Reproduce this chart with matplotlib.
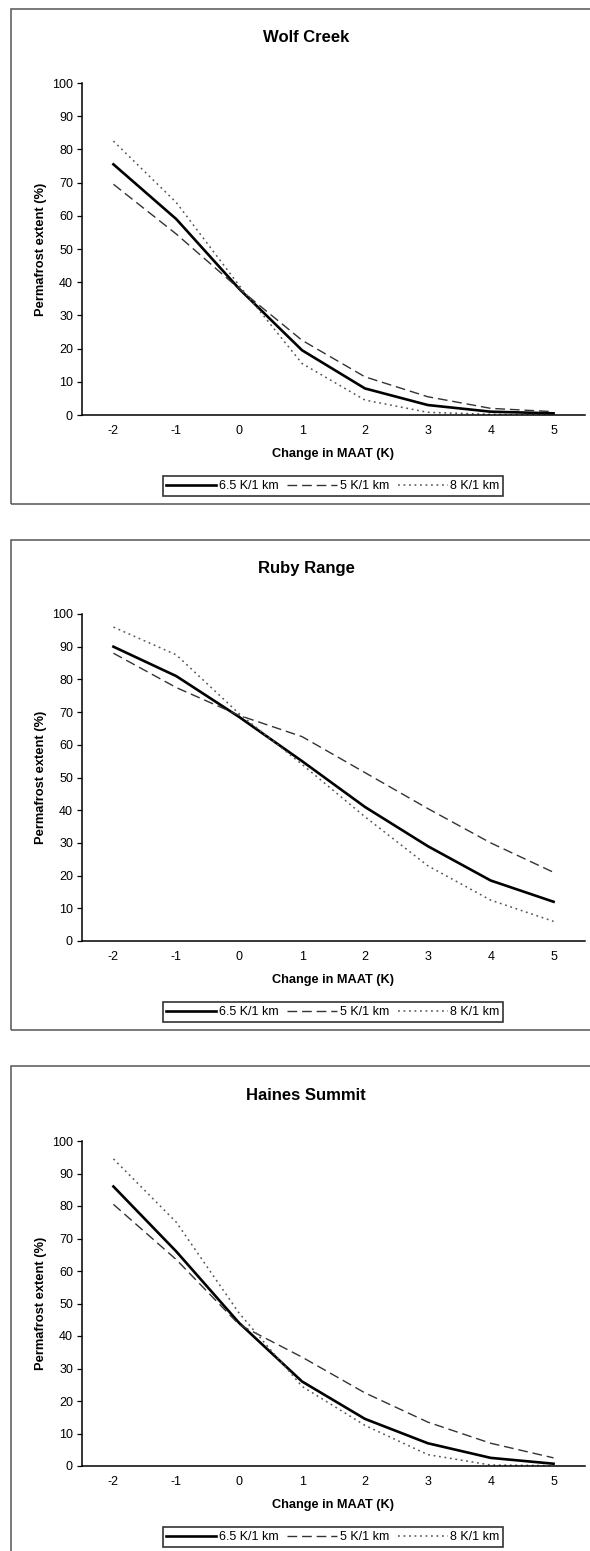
import matplotlib
matplotlib.use("Agg")
import matplotlib.pyplot as plt
from matplotlib.patches import Rectangle

plt.rcParams['font.family'] = ['Liberation Sans', 'DejaVu Sans']

maat_change = [-2, -1, 0, 1, 2, 3, 4, 5]
series_labels = ["6.5 K/1 km", "5 K/1 km", "8 K/1 km"]

# permafrost extent (%) per site, one list per lapse rate
wolf_65 = [75.5, 59, 38, 19.5, 8, 3, 1, 0.5]
wolf_5 = [69.5, 54.5, 38, 22.5, 11.5, 5.5, 2, 1]
wolf_8 = [82.5, 64, 39, 15.5, 4.5, 0.8, 0.2, 0.1]

ruby_65 = [90, 81, 68.5, 55, 41, 29, 18.5, 12]
ruby_5 = [88, 77.5, 69, 62.5, 51.5, 40.5, 30, 21]
ruby_8 = [96, 87.5, 69.5, 54, 38, 23, 12.5, 6]

haines_65 = [86, 66, 44, 26, 14.5, 7, 2.5, 0.7]
haines_5 = [80.5, 63.5, 43.5, 33.5, 22.5, 13.5, 7, 2.5]
haines_8 = [94.5, 75, 47, 24.5, 12.5, 3.5, 0.3, 0.1]

sites = ["Wolf Creek", "Ruby Range", "Haines Summit"]
site_data = [(wolf_65, wolf_5, wolf_8),
             (ruby_65, ruby_5, ruby_8),
             (haines_65, haines_5, haines_8)]

W, H = 590, 1551
fig = plt.figure(figsize=(W / 100, H / 100), dpi=100)

# pixel layout of each panel: frame top/bottom, axes top/bottom, title y, legend y
panels = [
    dict(box=(9, 504), ax=(83, 415), title=37, legend=486),
    dict(box=(540, 1030), ax=(614, 941), title=569, legend=1012),
    dict(box=(1066, 1600), ax=(1141, 1466), title=1095, legend=1537),
]
ax_left, ax_right = 82, 585

for name, (s65, s5, s8), p in zip(sites, site_data, panels):
    # outer frame around each chart
    b_top, b_bot = p["box"]
    fig.patches.append(Rectangle((11 / W, 1 - b_bot / H), 1.2, (b_bot - b_top) / H,
                                 transform=fig.transFigure, fill=False,
                                 edgecolor="#555555", lw=1.1, clip_on=False))

    a_top, a_bot = p["ax"]
    ax = fig.add_axes([ax_left / W, 1 - a_bot / H, (ax_right - ax_left) / W, (a_bot - a_top) / H])
    l1, = ax.plot(maat_change, s65, color="black", lw=1.9, solid_joinstyle="round")
    l2, = ax.plot(maat_change, s5, color="#333333", lw=1.0, dashes=(7, 3.5))
    l3, = ax.plot(maat_change, s8, color="#555555", lw=1.1, dashes=(1.2, 2.4))

    ax.set_xlim(-2.5, 5.5)
    ax.set_ylim(0, 100)
    ax.set_xticks(maat_change)
    ax.set_xticklabels([str(v) for v in maat_change])
    ax.set_yticks(range(0, 101, 10))
    ax.tick_params(axis="x", length=0, pad=7, labelsize=9)
    ax.tick_params(axis="y", length=3.5, width=0.9, pad=3, labelsize=9, direction="out")
    for side in ("top", "right"):
        ax.spines[side].set_visible(False)
    for side in ("left", "bottom"):
        ax.spines[side].set_linewidth(1.1)

    ax.set_ylabel("Permafrost extent (%)", fontsize=9.3, fontweight="bold")
    ax.yaxis.set_label_coords(-0.07, 0.5)
    ax.set_xlabel("Change in MAAT (K)", fontsize=9.2, fontweight="bold", labelpad=8)

    fig.text(306 / W, 1 - p["title"] / H, name, ha="center", va="center",
             fontsize=12, fontweight="bold")

    leg = fig.legend([l1, l2, l3], series_labels, loc="center", ncol=3,
                     bbox_to_anchor=(333 / W, 1 - p["legend"] / H),
                     fontsize=9, frameon=True, fancybox=False,
                     handlelength=4.0, handletextpad=0.2, columnspacing=0.7,
                     borderpad=0.3, borderaxespad=0)
    leg.get_frame().set_edgecolor("black")
    leg.get_frame().set_linewidth(1.2)

fig.savefig("out.png", dpi=100)
